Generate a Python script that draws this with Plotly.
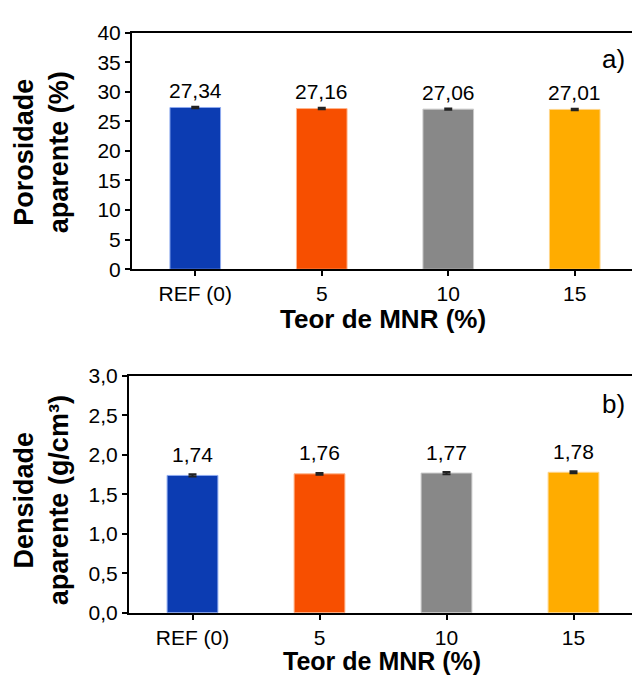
import plotly.graph_objects as go

categories = ["REF (0)", "5", "10", "15"]
porosity = [27.34, 27.16, 27.06, 27.01]
porosity_err = [0.12, 0.12, 0.12, 0.12]
porosity_labels = ["27,34", "27,16", "27,06", "27,01"]
density = [1.74, 1.76, 1.77, 1.78]
density_err = [0.015, 0.01, 0.015, 0.012]
density_labels = ["1,74", "1,76", "1,77", "1,78"]
y1_ticks = [0, 5, 10, 15, 20, 25, 30, 35, 40]
y1_ticktext = ["0", "5", "10", "15", "20", "25", "30", "35", "40"]
y2_ticks = [0, 0.5, 1.0, 1.5, 2.0, 2.5, 3.0]
y2_ticktext = ["0,0", "0,5", "1,0", "1,5", "2,0", "2,5", "3,0"]

colors = ["#0c3cb2", "#f74f00", "#888888", "#ffac00"]
edges = ["#8eaaf0", "#ffb48a", "#c9c9c9", "#ffd58a"]

W, H = 640, 679
OFF = 8  # page body margin
FONT = "Liberation Sans, Arial, sans-serif"


def px(x):
    return (x - OFF) / W


def py(y):
    return 1 - (y - OFF) / H


fig = go.Figure()
fig.add_trace(go.Bar(
    x=categories, y=porosity, width=0.4,
    marker=dict(color=colors, line=dict(color=edges, width=1)),
    error_y=dict(type="data", array=porosity_err, color="#222222", thickness=2, width=4),
    xaxis="x", yaxis="y", showlegend=False, hoverinfo="skip"))
fig.add_trace(go.Bar(
    x=categories, y=density, width=0.4,
    marker=dict(color=colors, line=dict(color=edges, width=1)),
    error_y=dict(type="data", array=density_err, color="#222222", thickness=2, width=4),
    xaxis="x2", yaxis="y2", showlegend=False, hoverinfo="skip"))

axis_common = dict(showline=True, linecolor="black", linewidth=2, mirror=True,
                   ticks="outside", ticklen=5, tickwidth=2, tickcolor="black",
                   showgrid=False, zeroline=False,
                   tickfont=dict(family=FONT, size=21, color="black"))
xaxis_extra = dict(type="category", tickangle=0, categoryorder="array",
                   categoryarray=categories, range=[-0.5, len(categories) - 0.5])

fig.update_layout(
    width=W, height=H, margin=dict(l=0, r=0, t=0, b=0),
    paper_bgcolor="white", plot_bgcolor="white",
    font=dict(family=FONT, color="black"),
    xaxis=dict(domain=[px(132), px(638)], anchor="y", **xaxis_extra, **axis_common),
    yaxis=dict(domain=[py(266), py(21)], anchor="x", range=[0, 40],
               tickvals=y1_ticks, ticktext=y1_ticktext, **axis_common),
    xaxis2=dict(domain=[px(129), px(637)], anchor="y2", **xaxis_extra, **axis_common),
    yaxis2=dict(domain=[py(621.5), py(376.5)], anchor="x2", range=[0, 3.0],
                tickvals=y2_ticks, ticktext=y2_ticktext, **axis_common),
)

ann = []
for i, (v, t) in enumerate(zip(porosity, porosity_labels)):
    ann.append(dict(x=i, y=v, xref="x", yref="y", text=t, showarrow=False,
                    yanchor="middle", yshift=17,
                    font=dict(family=FONT, size=21, color="black")))
for i, (v, t) in enumerate(zip(density, density_labels)):
    ann.append(dict(x=i, y=v, xref="x2", yref="y2", text=t, showarrow=False,
                    yanchor="middle", yshift=21,
                    font=dict(family=FONT, size=21, color="black")))

title_font = dict(family=FONT, size=27, color="black")
ann.append(dict(x=px(41), y=py(145), xref="paper", yref="paper",
                text="<b>Porosidade</b><br><b>aparente (%)</b>", textangle=-90,
                showarrow=False, xanchor="center", yanchor="middle", font=title_font))
ann.append(dict(x=px(41), y=py(505), xref="paper", yref="paper",
                text="<b>Densidade</b><br><b>aparente (g/cm³)</b>", textangle=-90,
                showarrow=False, xanchor="center", yanchor="middle", font=title_font))
ann.append(dict(x=px(383), y=py(318), xref="paper", yref="paper",
                text="<b>Teor de MNR (%)</b>", showarrow=False,
                xanchor="center", yanchor="middle", font=dict(family=FONT, size=26, color="black")))
ann.append(dict(x=px(382), y=py(671), xref="paper", yref="paper",
                text="<b>Teor de MNR (%)</b>", showarrow=False,
                xanchor="center", yanchor="middle", font=dict(family=FONT, size=25, color="black")))
ann.append(dict(x=px(627), y=py(48), xref="paper", yref="paper", text="a)",
                showarrow=False, xanchor="right", yanchor="middle",
                font=dict(family=FONT, size=26, color="black")))
ann.append(dict(x=px(627), y=py(405), xref="paper", yref="paper", text="b)",
                showarrow=False, xanchor="right", yanchor="middle",
                font=dict(family=FONT, size=26, color="black")))

fig.update_layout(annotations=ann)
fig.write_html("out.html")
